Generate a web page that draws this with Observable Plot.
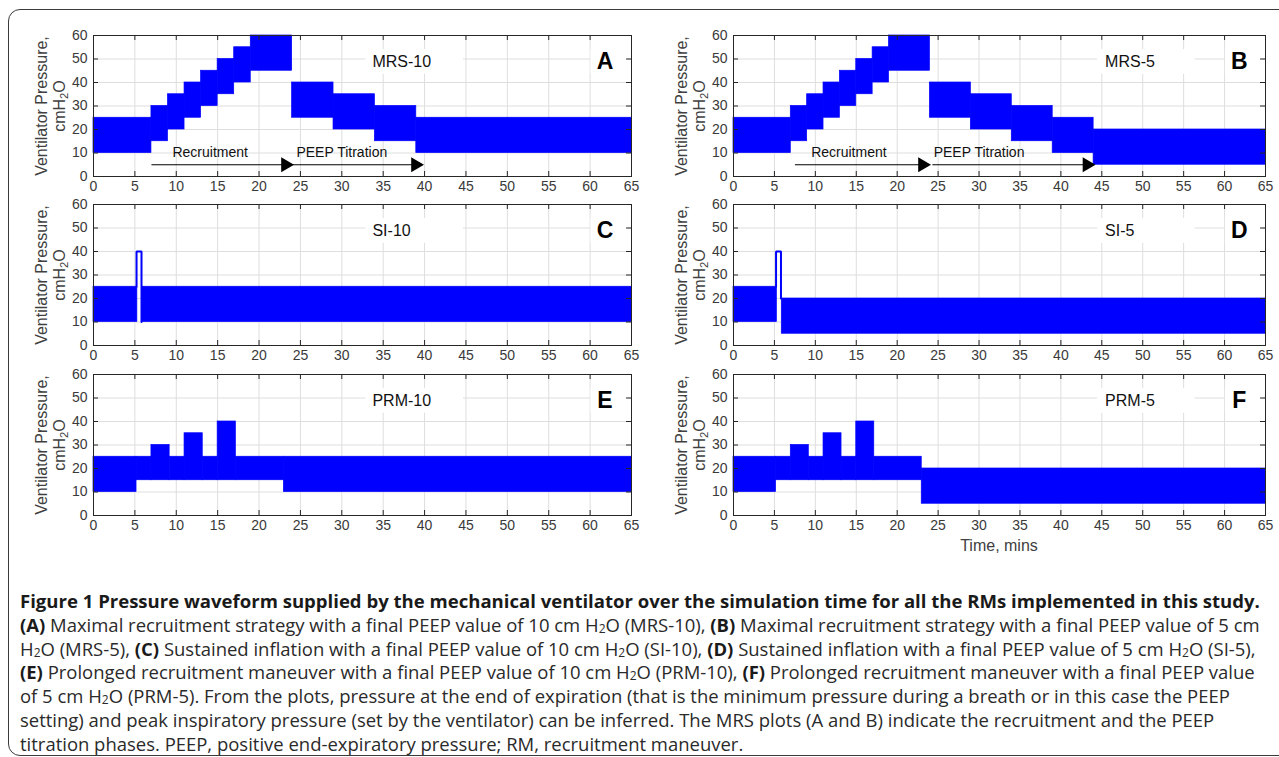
<!DOCTYPE html>
<html>
<head>
<meta charset="utf-8">
<script src="https://cdn.jsdelivr.net/npm/d3@7"></script>
<script src="https://cdn.jsdelivr.net/npm/@observablehq/plot@0.6"></script>
<style>
  html, body { margin: 0; padding: 0; background: #fff; overflow: hidden; }
  #root { position: relative; width: 1279px; height: 757px; overflow: hidden; font-family: "Liberation Sans", Arial, sans-serif; }
  #border { position: absolute; left: 8px; top: 9px; width: 1330px; height: 747px; border: 1.5px solid #3a3a3a; border-radius: 12px; box-sizing: border-box; }
  .panel { position: absolute; }
  .ylab { position: absolute; width: 170px; height: 36px; text-align: center; font-size: 16px; line-height: 18px; color: #404040; transform: rotate(-90deg); transform-origin: 50% 50%; white-space: nowrap; }
  .ylab sub { font-size: 70%; vertical-align: -0.3em; line-height: 0; }
  .cap sub { font-size: 65%; vertical-align: -0.12em; line-height: 0; }
  .xlab { position: absolute; font-size: 16px; color: #404040; transform: translateX(-50%); white-space: nowrap; }
  .cap { position: absolute; left: 20px; font-family: "Open Sans", "Noto Sans", sans-serif; color: #2a2a2a; white-space: nowrap; line-height: 20px; }
  .cap b { font-weight: 700; color: #1a1a1a; }
</style>
</head>
<body>
<div id="root">
  <div id="border"></div>
</div>
<script>
// ---------- data (minutes, cmH2O) ----------
// each row: [start time, end time, PEEP (breath minimum), peak inspiratory pressure]
const xTicks = [0, 5, 10, 15, 20, 25, 30, 35, 40, 45, 50, 55, 60, 65];
const yTicks = [0, 10, 20, 30, 40, 50, 60];

const mrs10 = [[0,7,10,25],[7,9,15,30],[9,11,20,35],[11,13,25,40],[13,15,30,45],[15,17,35,50],[17,19,40,55],[19,24,45,60],[24,29,25,40],[29,34,20,35],[34,39,15,30],[39,65,10,25]];
const mrs5  = [[0,7,10,25],[7,9,15,30],[9,11,20,35],[11,13,25,40],[13,15,30,45],[15,17,35,50],[17,19,40,55],[19,24,45,60],[24,29,25,40],[29,34,20,35],[34,39,15,30],[39,44,10,25],[44,65,5,20]];
const si10  = [[0,5.3,10,25],[5.9,65,10,25]];
const si5   = [[0,5.3,10,25],[5.9,65,5,20]];
const prm10 = [[0,5.2,10,25],[5.2,7,15,25],[7,9.2,15,30],[9.2,11,15,25],[11,13.2,15,35],[13.2,15,15,25],[15,17.2,15,40],[17.2,23,15,25],[23,65,10,25]];
const prm5  = [[0,5.2,10,25],[5.2,7,15,25],[7,9.2,15,30],[9.2,11,15,25],[11,13.2,15,35],[13.2,15,15,25],[15,17.2,15,40],[17.2,23,15,25],[23,65,5,20]];

// sustained inflation hold trace: [time, pressure]
const si10Hold = [[5.2,25],[5.2,40],[5.8,40],[5.8,10]];
const si5Hold  = [[5.2,25],[5.2,40],[5.8,40],[5.8,20]];

// MRS phases: [label, arrow start, arrow end, label centre]
const mrs10Phases = [["Recruitment", 7, 23.8, 14.1], ["PEEP Titration", 24, 39.5, 30]];
const mrs5Phases  = [["Recruitment", 7.5, 23.7, 14.1], ["PEEP Titration", 24.3, 43.8, 30]];

const panelNames   = ["MRS-10", "MRS-5", "SI-10", "SI-5", "PRM-10", "PRM-5"];
const panelLetters = ["A", "B", "C", "D", "E", "F"];

const captionLines = [
  "<b>Figure 1 Pressure waveform supplied by the mechanical ventilator over the simulation time for all the RMs implemented in this study.</b>",
  "<b>(A)</b> Maximal recruitment strategy with a final PEEP value of 10 cm H<sub>2</sub>O (MRS-10), <b>(B)</b> Maximal recruitment strategy with a final PEEP value of 5 cm",
  "H<sub>2</sub>O (MRS-5), <b>(C)</b> Sustained inflation with a final PEEP value of 10 cm H<sub>2</sub>O (SI-10), <b>(D)</b> Sustained inflation with a final PEEP value of 5 cm H<sub>2</sub>O (SI-5),",
  "<b>(E)</b> Prolonged recruitment maneuver with a final PEEP value of 10 cm H<sub>2</sub>O (PRM-10), <b>(F)</b> Prolonged recruitment maneuver with a final PEEP value",
  "of 5 cm H<sub>2</sub>O (PRM-5). From the plots, pressure at the end of expiration (that is the minimum pressure during a breath or in this case the PEEP",
  "setting) and peak inspiratory pressure (set by the ventilator) can be inferred. The MRS plots (A and B) indicate the recruitment and the PEEP",
  "titration phases. PEEP, positive end-expiratory pressure; RM, recruitment maneuver."
];

// ---------- layout ----------
const root = document.getElementById("root");
const plotH = 141, mTop = 15, mBottom = 22, mLeft = 93;
const rowTops = [20, 189, 359];
const colLefts = [0, 640];
const plotWs = [538, 532];
const svgWs = [660, 639];

function rowsToObj(rows) { return rows.map(([t0, t1, peep, pip]) => ({t0, t1, peep, pip})); }

function makePanel({rows, hold, phases, name, letter, col}) {
  const plotW = plotWs[col];
  const width = svgWs[col];
  const legendX0 = col === 0 ? 32.9 : 44.5;
  const legendX1 = col === 0 ? 44.7 : 56.4;
  const legendTx = col === 0 ? 33.7 : 45.4;
  const marks = [
    Plot.gridX(xTicks, {stroke: "#dedede", strokeOpacity: 1}),
    Plot.gridY(yTicks, {stroke: "#dedede", strokeOpacity: 1}),
    Plot.rect(rowsToObj(rows), {x1: "t0", x2: "t1", y1: "peep", y2: "pip", fill: "#0000ff", stroke: "#0000ff", strokeWidth: 0.7})
  ];
  if (hold) {
    marks.push(Plot.line(hold, {x: d => d[0], y: d => d[1], stroke: "#0000ff", strokeWidth: 2, strokeLinejoin: "miter"}));
  }
  if (phases) {
    marks.push(
      Plot.link(phases, {x1: d => d[1], x2: d => d[2], y1: 5, y2: 5, stroke: "#000", strokeWidth: 1.2}),
      Plot.dot(phases, {x: d => d[2], y: 5, symbol: "triangle", rotate: 90, r: 5.5, fill: "#000", stroke: "none", dx: -5}),
      Plot.text(phases, {x: d => d[3], y: 10, text: d => d[0], fontSize: 14, fill: "#111", fontFamily: "Liberation Sans, Arial, sans-serif"})
    );
  }
  marks.push(
    Plot.rect([0], {x1: legendX0, x2: legendX1, y1: 43.5, y2: 54, fill: "white"}),
    Plot.rect([0], {x1: 60.1, x2: 64.6, y1: 43.5, y2: 54, fill: "white"}),
    Plot.text([name], {x: legendTx, y: 48.7, text: d => d, textAnchor: "start", fontSize: 16, fill: "#111", fontFamily: "Liberation Sans, Arial, sans-serif"}),
    Plot.text([letter], {x: 61.8, y: 48.7, text: d => d, fontSize: 23, fontWeight: "bold", fill: "#000", fontFamily: "Liberation Sans, Arial, sans-serif"}),
    // inward ticks on all four sides
    Plot.tickX(xTicks, {x: d => d, insetTop: plotH - 5, stroke: "#262626"}),
    Plot.tickX(xTicks, {x: d => d, insetBottom: plotH - 5, stroke: "#262626"}),
    Plot.tickY(yTicks, {y: d => d, insetRight: plotW - 5, stroke: "#262626"}),
    Plot.tickY(yTicks, {y: d => d, insetLeft: plotW - 5, stroke: "#262626"}),
    Plot.axisX(xTicks, {tickSize: 0, tickPadding: 5, label: null, fill: "#3a3a3a"}),
    Plot.axisY(yTicks, {tickSize: 0, tickPadding: 6, label: null, fill: "#3a3a3a"}),
    Plot.frame({stroke: "#262626", strokeWidth: 1})
  );
  return Plot.plot({
    width, height: mTop + plotH + mBottom,
    marginTop: mTop, marginBottom: mBottom, marginLeft: mLeft, marginRight: width - mLeft - plotW,
    x: {domain: [0, 65]},
    y: {domain: [0, 60]},
    style: {background: "transparent", overflow: "visible", fontFamily: "Liberation Sans, Arial, sans-serif", fontSize: "14px", color: "#333"},
    marks
  });
}

const panels = [
  {rows: mrs10, phases: mrs10Phases},
  {rows: mrs5, phases: mrs5Phases},
  {rows: si10, hold: si10Hold},
  {rows: si5, hold: si5Hold},
  {rows: prm10},
  {rows: prm5}
];

panels.forEach((p, i) => {
  const col = i % 2, row = Math.floor(i / 2);
  const svg = makePanel({...p, name: panelNames[i], letter: panelLetters[i], col});
  const wrap = document.createElement("div");
  wrap.className = "panel";
  wrap.style.left = colLefts[col] + "px";
  wrap.style.top = rowTops[row] + "px";
  wrap.appendChild(svg);
  root.appendChild(wrap);
  const yl = document.createElement("div");
  yl.className = "ylab";
  yl.innerHTML = "Ventilator Pressure,<br>cmH<sub>2</sub>O";
  const cx = colLefts[col] + 51, cy = rowTops[row] + mTop + plotH / 2;
  yl.style.left = (cx - 85) + "px";
  yl.style.top = (cy - 18) + "px";
  root.appendChild(yl);
});

const xl = document.createElement("div");
xl.className = "xlab";
xl.textContent = "Time, mins";
xl.style.left = (colLefts[1] + mLeft + plotWs[1] / 2) + "px";
xl.style.top = (rowTops[2] + mTop + plotH + 22) + "px";
root.appendChild(xl);

// caption
const capTop = 591, capStep = 23.8;
const capEls = captionLines.map((html, i) => {
  const d = document.createElement("div");
  d.className = "cap";
  d.innerHTML = html;
  d.style.fontSize = "16px";
  d.style.top = (capTop + i * capStep) + "px";
  root.appendChild(d);
  return d;
});
const target = 1240;
const w2 = capEls[1].getBoundingClientRect().width;
const fs = 16 * target / w2;
capEls.forEach(d => d.style.fontSize = fs + "px");
const w1 = capEls[0].getBoundingClientRect().width;
capEls[0].style.fontSize = (fs * target / w1) + "px";
</script>
</body>
</html>
